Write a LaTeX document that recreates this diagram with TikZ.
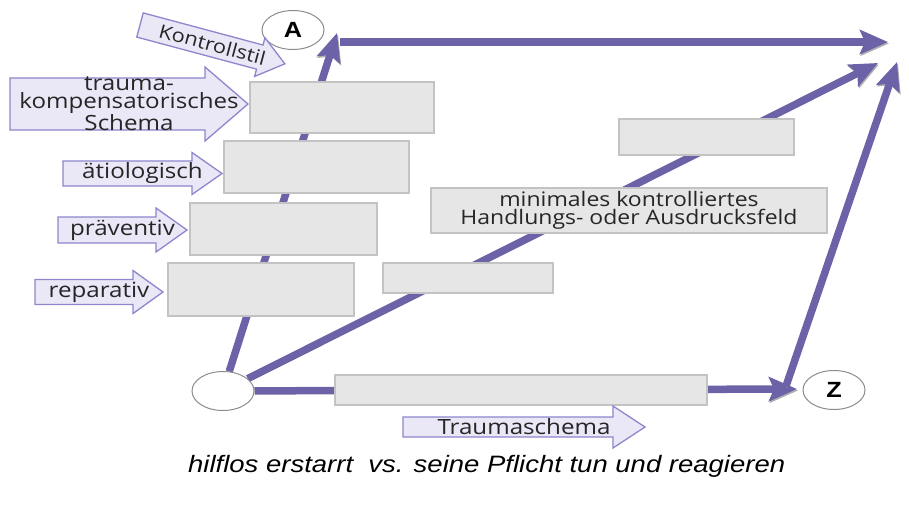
\documentclass[tikz,border=0pt]{standalone}
\usepackage{fontspec}
\setmainfont{Liberation Sans}
\newfontfamily\lblfont[FakeStretch=1.15]{Open Sans}
\newfontfamily\capfont[FakeStretch=1.16]{Liberation Sans}
\newfontfamily\letterfont[FakeStretch=1.15]{Liberation Sans}
\usetikzlibrary{arrows.meta,shapes.geometric,backgrounds}
\definecolor{arrowpurple}{RGB}{108,98,168}
\definecolor{boxfill}{RGB}{230,230,230}
\definecolor{boxdraw}{RGB}{195,195,195}
\definecolor{lblfill}{RGB}{234,232,246}
\definecolor{lbldraw}{RGB}{140,134,204}
\definecolor{ringdraw}{RGB}{140,140,140}
\definecolor{txtgray}{RGB}{38,38,38}
\definecolor{shadowgray}{RGB}{175,175,175}
\tikzset{
  conn/.style={draw=arrowpurple, line width=7.5pt, -{Stealth[length=28pt,width=24pt,inset=5pt]},
    preaction={draw=shadowgray, transform canvas={shift={(1pt,-1.5pt)}}}},
  graybox/.style={draw=boxdraw, fill=boxfill, line width=1.3pt, inner sep=0pt},
  ring/.style={ellipse, draw=ringdraw, fill=white, line width=1pt, inner sep=0pt, minimum width=62pt, minimum height=39pt, font=\letterfont\bfseries\fontsize{22}{22}\selectfont},
  lblar/.style={draw=lbldraw, fill=lblfill, line width=1.3pt, line join=miter},
  lbltext/.style={text=txtgray, inner sep=0pt, align=center, font=\lblfont\fontsize{21}{18}\selectfont},
}
\newcommand\lblarrow[8]{%
  \begin{scope}[#1]
    \draw[lblar] (0,-#4/2) -- (#2,-#4/2) -- (#2,-#5/2) -- (#3,0) -- (#2,#5/2) -- (#2,#4/2) -- (0,#4/2) -- cycle;
    \node[lbltext,transform shape,#8] (#6) at (#3/2,0) {#7};
  \end{scope}}
\begin{document}
\begin{tikzpicture}[x=1pt,y=-1pt]
\useasboundingbox (0,0) rectangle (909,508);
% rings
\node[ring] (A) at (293,30) {A};
\node[ring] (Z) at (834,390) {Z};
\node[ring] (O) at (223,391) {};
% gray boxes
\node[graybox, minimum width=184pt, minimum height=51pt] (b1) at (342,107.5) {};
\node[graybox, minimum width=185pt, minimum height=52pt] (b2) at (316.5,167) {};
\node[graybox, minimum width=187pt, minimum height=52pt] (b3) at (283.5,229) {};
\node[graybox, minimum width=186pt, minimum height=53pt] (b4) at (261,289.5) {};
\node[graybox, minimum width=170pt, minimum height=30pt] (b5) at (468,278) {};
\node[graybox, minimum width=396pt, minimum height=45pt, text=txtgray, align=center, font=\lblfont\fontsize{20}{18}\selectfont] (bm) at (629,210.5) {minimales kontrolliertes\\Handlungs- oder Ausdrucksfeld};
\node[graybox, minimum width=175pt, minimum height=36pt] (b7) at (706.5,137) {};
\node[graybox, minimum width=372pt, minimum height=30pt] (b8) at (521,390) {};
% free ends
\coordinate (Atip) at (337,33);
\coordinate (topL) at (340,42);
\coordinate (topR) at (888,42);
\coordinate (Dtip) at (878,63);
\coordinate (Btip) at (797,389);
\coordinate (Zin) at (786,386);
\coordinate (Rtip) at (897,62);
\begin{pgfonlayer}{background}
  \draw[conn] (O) -- (Atip);
  \draw[conn] (topL) -- (topR);
  \draw[conn] (O) -- (Dtip);
  \draw[conn] (O) -- (Btip);
  \draw[conn] (Zin) -- (Rtip);
\end{pgfonlayer}
% label arrows
\lblarrow{shift={(140,25)},rotate=-15}{124}{150}{25}{40}{lk}{Kontrollstil}{font=\lblfont\fontsize{19}{19}\selectfont}
\lblarrow{shift={(10,104)}}{195}{238}{52}{74}{lt}{trauma-\\kompensatorisches\\Schema}{}
\lblarrow{shift={(63,173.5)}}{129}{159}{25}{42}{la}{ätiologisch}{}
\lblarrow{shift={(58,230)}}{98}{129}{26}{44}{lp}{präventiv}{}
\lblarrow{shift={(35,292)}}{98}{128}{25}{43}{lr}{reparativ}{}
\lblarrow{shift={(403,427)}}{210}{242}{20}{42}{ls}{Traumaschema}{}
% caption
\node[font=\capfont\itshape\fontsize{23.7}{24}\selectfont, inner sep=0pt, anchor=base west] (cap) at (188,472) {hilflos erstarrt\ \ vs. seine Pflicht tun und reagieren};
\end{tikzpicture}
\end{document}
